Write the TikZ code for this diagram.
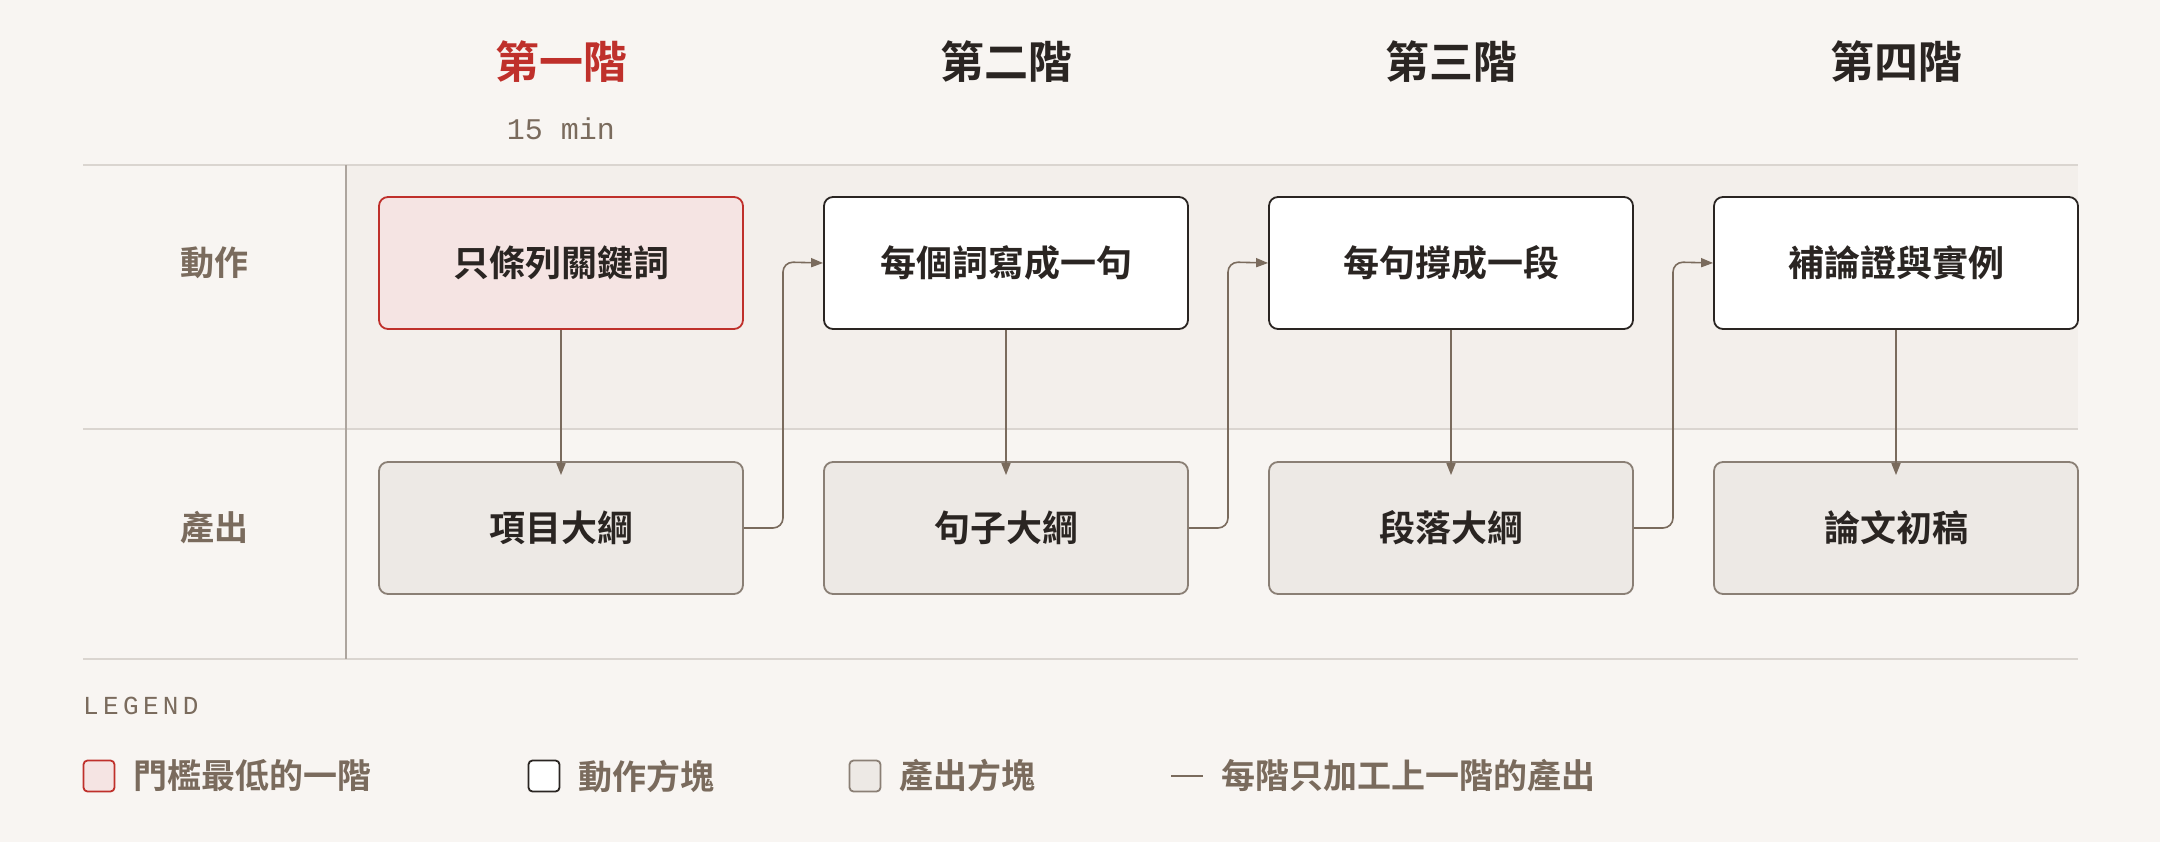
\documentclass[tikz,border=0pt]{standalone}
\usepackage{fontspec}
\setmainfont{Noto Sans CJK TC}
\newfontfamily\cjkb{Noto Sans CJK TC}[BoldFont={* Bold}]
\newfontfamily\monof{Liberation Mono}
\usetikzlibrary{arrows.meta}
\definecolor{bg}{HTML}{F8F5F2}
\definecolor{band}{HTML}{F3EFEB}
\definecolor{redc}{HTML}{BF302B}
\definecolor{brown}{HTML}{7A6B5D}
\definecolor{ink}{HTML}{2A2522}
\definecolor{redfill}{HTML}{F5E4E3}
\definecolor{outfill}{HTML}{EDE9E5}
\definecolor{outline}{HTML}{8A7F75}
\definecolor{rule}{HTML}{DAD5D0}
\begin{document}
\begin{tikzpicture}[x=1pt,y=-1pt,
 box/.style={draw, rounded corners=9pt, line width=1.8pt, minimum width=364pt, minimum height=132pt, inner sep=0pt, font=\cjkb\bfseries\fontsize{36}{40}\selectfont, text=ink},
 act/.style={box, fill=white, draw=ink},
 first/.style={box, fill=redfill, draw=redc},
 outbox/.style={box, fill=outfill, draw=outline},
 head/.style={font=\cjkb\bfseries\fontsize{44}{48}\selectfont, text=ink},
 row/.style={font=\cjkb\bfseries\fontsize{34}{38}\selectfont, text=brown},
 leg/.style={font=\cjkb\bfseries\fontsize{34}{38}\selectfont, text=brown, anchor=west, inner sep=0pt},
 arr/.style={draw=brown, line width=1.6pt, -{Triangle[length=12pt,width=9pt]}},
 link/.style={arr, rounded corners=10pt},
 sq/.style={rounded corners=4pt, line width=1.8pt, minimum size=31pt, inner sep=0pt}]
\fill[bg] (0,0) rectangle (2160,842);
\useasboundingbox (0,0) rectangle (2160,842);
\fill[band] (346,165) rectangle (2078,429);
\draw[rule, line width=1.5pt] (83,165) -- (2078,165);
\draw[rule, line width=1.5pt] (83,429) -- (2078,429);
\draw[rule, line width=1.5pt] (83,659) -- (2078,659);
\draw[outline!70, line width=1.5pt] (346,165) -- (346,659);
% headers
\node[head, text=redc] (h1) at (561,62) {第一階};
\node[font=\monof\fontsize{30}{34}\selectfont, text=brown] (t1) at (561,129) {15 min};
\node[head] (h2) at (1006,62) {第二階};
\node[head] (h3) at (1451,62) {第三階};
\node[head] (h4) at (1896,62) {第四階};
\node[row] (r1) at (214,263) {動作};
\node[row] (r2) at (214,528) {產出};
% boxes
\node[first] (a1) at (561,263) {只條列關鍵詞};
\node[act] (a2) at (1006,263) {每個詞寫成一句};
\node[act] (a3) at (1451,263) {每句撐成一段};
\node[act] (a4) at (1896,263) {補論證與實例};
\node[outbox] (o1) at (561,528) {項目大綱};
\node[outbox] (o2) at (1006,528) {句子大綱};
\node[outbox] (o3) at (1451,528) {段落大綱};
\node[outbox] (o4) at (1896,528) {論文初稿};
\foreach \i in {1,2,3,4}{\draw[arr] (a\i) -- ([yshift=-14pt]o\i.north);}
\draw[link] (o1.east) -- (783,528) -- (783,262) -- (a2.west);
\draw[link] (o2.east) -- (1228,528) -- (1228,262) -- (a3.west);
\draw[link] (o3.east) -- (1673,528) -- (1673,262) -- (a4.west);
% legend
\node[anchor=west, inner sep=0pt, font=\monof\fontsize{26}{30}\selectfont, text=brown] (lg) at (83,706) {L\,E\,G\,E\,N\,D};
\node[sq, fill=redfill, draw=redc] (s1) at (99,776) {};
\node[leg] (l1) at (133,776) {門檻最低的一階};
\node[sq, fill=white, draw=ink] (s2) at (544,776) {};
\node[leg] (l2) at (578,776) {動作方塊};
\node[sq, fill=outfill, draw=outline] (s3) at (865,776) {};
\node[leg] (l3) at (899,776) {產出方塊};
\coordinate (d1) at (1171,776);
\coordinate (d2) at (1203,776);
\draw[brown, line width=1.5pt] (d1) -- (d2);
\node[leg] (l4) at (1221,776) {每階只加工上一階的產出};
\end{tikzpicture}
\end{document}
